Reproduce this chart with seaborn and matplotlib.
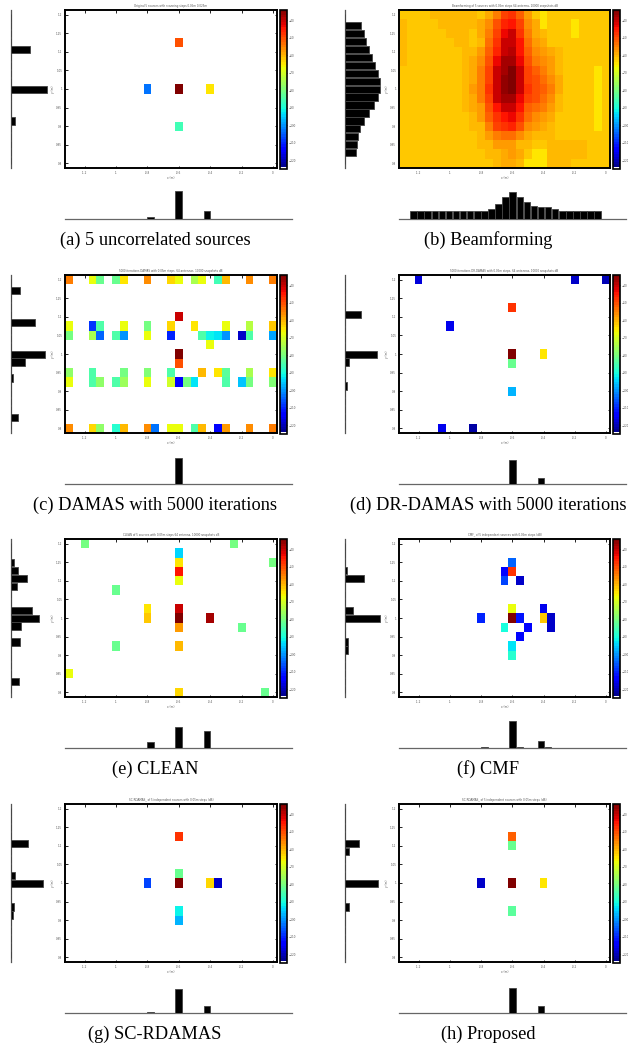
import numpy as np
import matplotlib
matplotlib.use("Agg")
import matplotlib.pyplot as plt
import seaborn as sns
from matplotlib.colors import ListedColormap

sns.set_theme(style="white")
plt.rcParams["font.family"] = ["DejaVu Sans"]

# ---------------- grid / axes description ----------------
N_ROWS, N_COLS = 17, 27          # scanning grid (y rows, x columns)
N_LEFT_BINS, N_BOTTOM_BINS = 19, 27
X_TICK_COLS = [2, 6, 10, 14, 18, 22, 26]
X_TICK_LABELS = ["-1.2", "-1", "-0.8", "-0.6", "-0.4", "-0.2", "0"]
Y_TICK_ROWS = [0, 2, 4, 6, 8, 10, 12, 14, 16]
Y_TICK_LABELS = ["1.2", "1.15", "1.1", "1.05", "1", "0.95", "0.9", "0.85", "0.8"]
CBAR_TICKS = [-40, -50, -60, -70, -80, -90, -100, -110, -120]
V_MIN, V_MAX = -125, -34

captions = ["(a) 5 uncorrelated sources", "(b) Beamforming",
            "(c) DAMAS with 5000 iterations", "(d) DR-DAMAS with 5000 iterations",
            "(e) CLEAN", "(f) CMF", "(g) SC-RDAMAS", "(h) Proposed"]
titles = ["Original 5 sources with scanning steps 0.05m 0.025m",
          "Beamforming of 5 sources with 0.05m steps 64 antenna, 10000 snapshots dB",
          "5000 iterations DAMAS with 0.05m steps, 64 antennas, 10000 snapshots dB",
          "5000 iterations DR-DAMAS with 0.05m steps, 64 antennas, 10000 snapshots dB",
          "CLEAN of 5 sources with 0.05m steps 64 antenna, 10000 snapshots dB",
          "CMF_ of 5 independent sources with 0.05m steps (dB)",
          "SC-RDAMAS_ of 5 independent sources with 0.05m steps (dB)",
          "SC-RDAMAS_ of 5 independent sources with 0.05m steps (dB)"]

# ---------------- map values (dB) ----------------
a_rows = [3, 8, 8, 8, 12]
a_cols = [14, 10, 14, 18, 14]
a_db = [-51, -103, -34, -64, -86]

B, D, L = -62, -60, -65
b_map = [
    [B, B, B, B, D, D, D, D, D, D, B, -59, -54, -49, -48, -52, -58, B, L, B, B, B, B, B, B, B, B],
    [D, B, B, B, B, D, D, D, D, D, -59, -56, -50, -46, -45, -49, -56, -59, L, B, B, B, L, B, B, B, B],
    [D, B, B, B, B, B, D, D, D, B, -59, -54, -49, -43, -41, -47, -54, -59, -60, B, B, B, L, B, B, B, B],
    [D, B, B, B, B, B, B, D, D, B, -60, -53, -47, -41, -40, -45, -53, -58, -59, B, B, B, B, B, B, B, B],
    [D, B, B, B, B, B, B, B, D, D, -58, -52, -46, -40, -39, -45, -52, -56, -58, -59, -61, B, B, B, B, B, B],
    [D, B, B, B, B, B, B, B, D, -59, -56, -50, -43, -38, -37, -43, -50, -54, -56, -58, -61, B, B, B, B, B, B],
    [B, B, B, B, B, B, B, B, D, -59, -55, -49, -41, -37, -35, -41, -49, -52, -54, -57, -60, B, B, B, B, L, B],
    [B, B, B, B, B, B, B, B, D, -59, -54, -49, -40, -36, -34, -41, -49, -51, -53, -56, -59, B, B, B, B, L, B],
    [B, B, B, B, B, B, B, B, D, -58, -54, -48, -40, -36, -34, -41, -48, -50, -52, -55, -59, B, B, B, B, L, B],
    [B, B, B, B, B, B, B, B, D, -59, -55, -49, -41, -38, -37, -43, -49, -51, -53, -56, -60, B, B, B, B, L, B],
    [B, B, B, B, B, B, B, B, D, -59, -57, -50, -44, -41, -41, -45, -52, -53, -55, -57, -61, B, B, B, B, L, B],
    [B, B, B, B, B, B, B, B, B, D, -58, -52, -47, -44, -43, -48, -53, -56, -57, -59, B, B, B, B, B, L, B],
    [B, B, B, B, B, B, B, B, B, -61, -60, -54, -49, -47, -46, -50, -56, -58, -59, -60, B, B, B, B, B, L, B],
    [B, B, B, B, B, B, B, B, B, B, -60, -58, -54, -53, -53, -56, -59, -60, -60, -60, B, B, B, B, B, B, B],
    [B, B, B, B, B, B, B, B, B, B, -61, -60, -58, -58, -58, -60, -61, B, B, -61, -61, -61, -60, -60, B, B, B],
    [B, B, B, B, B, B, B, B, B, B, B, -61, -60, -59, -57, -59, B, -64, -64, -61, -60, -60, -60, -60, B, B, B],
    [B, B, B, B, B, B, B, B, B, B, B, B, -60, -59, -59, -61, -64, -64, -64, -61, -60, -60, B, B, B, B, B],
]

c_rows = [0]*14 + [4] + [5]*10 + [6]*14 + [7, 8, 9] + [10]*10 + [11]*14 + [16]*15
c_cols = [0, 3, 4, 6, 7, 10, 13, 14, 16, 17, 19, 20, 23, 26,
          14,
          0, 3, 4, 7, 10, 13, 16, 20, 23, 26,
          0, 3, 4, 6, 7, 10, 13, 17, 18, 19, 20, 22, 23, 26,
          18, 14, 14,
          0, 3, 7, 10, 13, 17, 19, 20, 23, 26,
          0, 3, 4, 6, 7, 10, 13, 14, 15, 16, 20, 22, 23, 26,
          0, 3, 4, 6, 7, 10, 11, 13, 14, 16, 17, 19, 20, 23, 26]
c_db = [-54, -67, -82, -82, -64, -56, -63, -67, -75, -68, -86, -60, -56, -55,
        -40,
        -67, -108, -84, -68, -80, -63, -65, -68, -73, -62,
        -80, -75, -105, -84, -100, -68, -110, -84, -92, -93, -100, -118, -85, -98,
        -68, -34, -50,
        -77, -84, -80, -79, -84, -61, -65, -83, -75, -64,
        -68, -84, -77, -84, -76, -68, -70, -115, -80, -93, -85, -96, -80, -79,
        -56, -63, -77, -89, -60, -56, -103, -67, -68, -84, -61, -113, -57, -56, -55]

d_rows = [0, 0, 0, 3, 5, 8, 8, 9, 12, 16, 16]
d_cols = [2, 22, 26, 14, 6, 14, 18, 14, 14, 5, 9]
d_db = [-117, -118, -120, -47, -116, -34, -64, -81, -97, -116, -122]

e_rows = [0, 0, 1, 2, 2, 3, 4, 5, 7, 7, 8, 8, 8, 9, 9, 11, 11, 14, 16, 16]
e_cols = [2, 21, 14, 14, 26, 14, 14, 6, 10, 14, 10, 14, 18, 14, 22, 6, 14, 0, 14, 25]
e_db = [-80, -80, -95, -65, -80, -45, -68, -81, -65, -40, -62, -34, -38, -57, -81, -81, -60, -67, -63, -81]

f_rows = [2, 3, 3, 4, 4, 7, 7, 8, 8, 8, 8, 8, 9, 9, 9, 10, 11, 12]
f_cols = [14, 13, 14, 13, 15, 14, 18, 10, 14, 15, 18, 19, 13, 16, 19, 15, 14, 14]
f_db = [-105, -115, -48, -107, -119, -67, -116, -110, -34, -112, -62, -118, -90, -113, -118, -113, -93, -89]

g_rows = [3, 7, 8, 8, 8, 8, 11, 12]
g_cols = [14, 14, 10, 14, 18, 19, 14, 14]
g_db = [-47, -82, -107, -34, -63, -118, -92, -97]

h_rows = [3, 4, 8, 8, 8, 11]
h_cols = [14, 14, 10, 14, 18, 14]
h_db = [-52, -82, -118, -34, -65, -83]

# ---------------- marginal histograms ----------------
a_left_bins, a_left_vals = [4, 9, 13], [55, 108, 11]
a_bot_bins, a_bot_vals = [10, 14, 18], [4, 83, 23]
b_left_bins = list(range(1, 18))
b_left_vals = [48, 56, 63, 71, 80, 90, 98, 105, 106, 98, 86, 71, 56, 45, 38, 35, 33]
b_bot_bins = list(range(27))
b_bot_vals = [22, 22, 22, 22, 22, 22, 22, 22, 22, 24, 24, 28, 43, 66, 80, 66, 50, 38, 34, 34, 28,
              22, 22, 22, 22, 22, 22]
c_left_bins, c_left_vals = [1, 5, 9, 10, 12, 17], [25, 71, 101, 41, 4, 21]
c_bot_bins, c_bot_vals = [14], [78]
d_left_bins, d_left_vals = [4, 9, 10, 13], [48, 96, 10, 5]
d_bot_bins, d_bot_vals = [14, 18], [73, 18]
e_left_bins, e_left_vals = [2, 3, 4, 5, 8, 9, 10, 12, 17], [8, 20, 48, 18, 63, 83, 30, 25, 23]
e_bot_bins, e_bot_vals = [10, 14, 18], [17, 62, 52]
f_left_bins, f_left_vals = [3, 4, 8, 9, 12, 13], [4, 55, 23, 106, 7, 8]
f_bot_bins, f_bot_vals = [10, 14, 15, 18, 19], [2, 80, 3, 20, 3]
g_left_bins, g_left_vals = [4, 8, 9, 12, 13], [50, 10, 96, 7, 6]
g_bot_bins, g_bot_vals = [10, 14, 18], [3, 72, 19]
h_left_bins, h_left_vals = [4, 5, 9, 12], [40, 11, 100, 10]
h_bot_bins, h_bot_vals = [14, 18], [75, 19]


def sparse_map(rows, cols, vals):
    m = np.full((N_ROWS, N_COLS), np.nan)
    for r, c, v in zip(rows, cols, vals):
        m[r, c] = v
    return m


def full_hist(bins, vals, n):
    h = np.zeros(n)
    for b_, v in zip(bins, vals):
        h[b_] = v
    return h


maps = [sparse_map(a_rows, a_cols, a_db), np.array(b_map, dtype=float),
        sparse_map(c_rows, c_cols, c_db), sparse_map(d_rows, d_cols, d_db),
        sparse_map(e_rows, e_cols, e_db), sparse_map(f_rows, f_cols, f_db),
        sparse_map(g_rows, g_cols, g_db), sparse_map(h_rows, h_cols, h_db)]
lefts = [full_hist(a_left_bins, a_left_vals, N_LEFT_BINS), full_hist(b_left_bins, b_left_vals, N_LEFT_BINS),
         full_hist(c_left_bins, c_left_vals, N_LEFT_BINS), full_hist(d_left_bins, d_left_vals, N_LEFT_BINS),
         full_hist(e_left_bins, e_left_vals, N_LEFT_BINS), full_hist(f_left_bins, f_left_vals, N_LEFT_BINS),
         full_hist(g_left_bins, g_left_vals, N_LEFT_BINS), full_hist(h_left_bins, h_left_vals, N_LEFT_BINS)]
bottoms = [full_hist(a_bot_bins, a_bot_vals, N_BOTTOM_BINS), full_hist(b_bot_bins, b_bot_vals, N_BOTTOM_BINS),
           full_hist(c_bot_bins, c_bot_vals, N_BOTTOM_BINS), full_hist(d_bot_bins, d_bot_vals, N_BOTTOM_BINS),
           full_hist(e_bot_bins, e_bot_vals, N_BOTTOM_BINS), full_hist(f_bot_bins, f_bot_vals, N_BOTTOM_BINS),
           full_hist(g_bot_bins, g_bot_vals, N_BOTTOM_BINS), full_hist(h_bot_bins, h_bot_vals, N_BOTTOM_BINS)]

# MATLAB-like jet(64) with the lowest entry white
jet = plt.get_cmap("jet", 64)(np.linspace(0, 1, 64))
jet[0] = [1, 1, 1, 1]
cmap = ListedColormap(jet)

W, H = 628, 1046
fig = plt.figure(figsize=(W / 100, H / 100), dpi=100)
fig.patch.set_facecolor("white")


def add_px_axes(x0, y0, x1, y1):
    return fig.add_axes([x0 / W, 1 - y1 / H, (x1 - x0) / W, (y1 - y0) / H])


COLS = [dict(lh=(11, 48), main=(65, 277), cb=(280, 287), bh=(65, 292)),
        dict(lh=(345, 382), main=(399, 610), cb=(613, 620), bh=(399, 626))]
TOPS = [10, 275, 539, 804]

for i in range(8):
    r, c = divmod(i, 2)
    g = COLS[c]
    top = TOPS[r]

    ax = add_px_axes(g["main"][0], top, g["main"][1], top + 158)
    cax = add_px_axes(g["cb"][0], top, g["cb"][1], top + 159)
    m = maps[i]
    sns.heatmap(m, mask=np.isnan(m), cmap=cmap, vmin=V_MIN, vmax=V_MAX, ax=ax, cbar_ax=cax,
                xticklabels=False, yticklabels=False, linewidths=0)
    ax.set_facecolor("white")
    for s in ax.spines.values():
        s.set_visible(True)
        s.set_linewidth(1.4)
        s.set_color("black")
    ax.set_xticks([k + 0.5 for k in X_TICK_COLS])
    ax.set_xticklabels(X_TICK_LABELS)
    ax.set_yticks([k + 0.5 for k in Y_TICK_ROWS])
    ax.set_yticklabels(Y_TICK_LABELS, rotation=0)
    ax.tick_params(direction="in", length=1.8, width=0.6, labelsize=2, top=True, right=True,
                   bottom=True, left=True, pad=2, colors="black", labelcolor="#555555")
    ax.set_xlabel("x (m)", fontsize=2, labelpad=1, color="#555555")
    ax.set_ylabel("y (m)", fontsize=2, labelpad=1, color="#555555")
    ax.set_title(titles[i], fontsize=2, pad=2, color="#555555")

    cbar = ax.collections[0].colorbar
    cbar.set_ticks(CBAR_TICKS)
    cbar.ax.tick_params(labelsize=2, length=1.2, width=0.5, direction="in", pad=1,
                        labelcolor="#555555")
    cbar.outline.set_visible(True)
    cbar.outline.set_linewidth(1.2)
    cbar.outline.set_edgecolor("black")

    # left marginal histogram
    axl = add_px_axes(g["lh"][0], top, g["lh"][1], top + 158)
    axl.barh(np.arange(N_LEFT_BINS), lefts[i], height=0.92, color="black",
             edgecolor="#444444", linewidth=0.6, zorder=3)
    axl.set_ylim(18.95, -1.0)
    axl.set_xlim(-1.0, 111)
    axl.set_facecolor("none")
    for k, s in axl.spines.items():
        s.set_visible(k == "left")
    axl.spines["left"].set_linewidth(0.9)
    axl.spines["left"].set_color("#555555")
    axl.set_xticks([])
    axl.set_yticks([])

    # bottom marginal histogram
    axb = add_px_axes(g["bh"][0], top + 179, g["bh"][1], top + 209)
    axb.bar(np.arange(N_BOTTOM_BINS), bottoms[i], width=0.92, color="black",
            edgecolor="#444444", linewidth=0.6, zorder=3)
    axb.set_xlim(-2.06, 30.0)
    axb.set_ylim(-1.0, 90)
    axb.set_facecolor("none")
    for k, s in axb.spines.items():
        s.set_visible(k == "bottom")
    axb.spines["bottom"].set_linewidth(0.9)
    axb.spines["bottom"].set_color("#666666")
    axb.set_xticks([])
    axb.set_yticks([])

    cx = 155 if c == 0 else 488
    fig.text(cx / W, 1 - (top + 230) / H, captions[i], ha="center", va="center",
             fontsize=13.2, family="Liberation Serif", color="black")

fig.savefig("out.png", dpi=100, facecolor="white")
